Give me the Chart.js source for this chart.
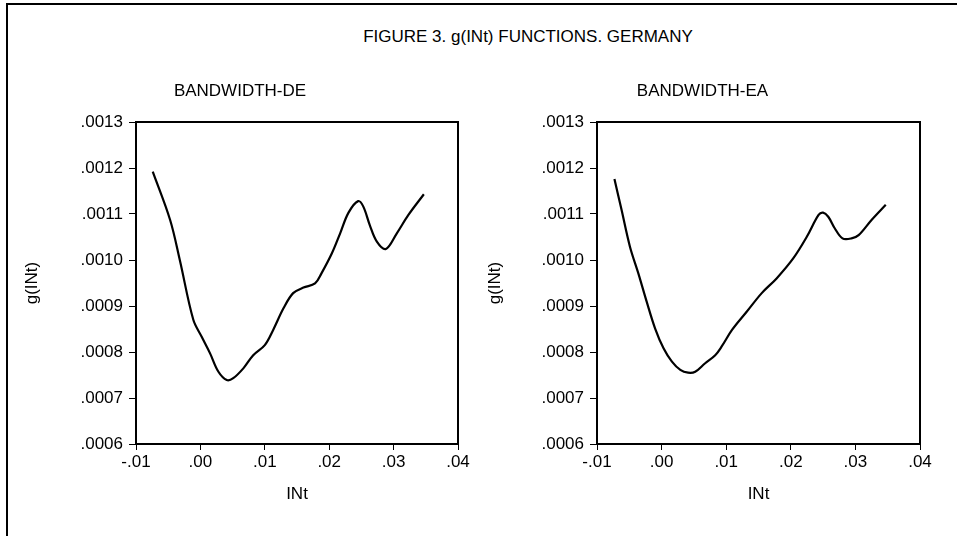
<!DOCTYPE html>
<html lang="en">
<head>
   <meta charset="UTF-8">
   <title>Figure 3</title>
   <style>
      body { margin: 0; background: #fff; overflow: hidden; }
      .page { position: relative; width: 957px; height: 536px; overflow: hidden; }
      .frame { position: absolute; left: 6px; top: 3px; width: 1000px; height: 600px; border: 2px solid #000; }
      .main-title {
         position: absolute; left: 0; top: 27px; width: 1056px;
         text-align: center; font: 17px "Liberation Sans", Arial, sans-serif; line-height: 20px; color: #000;
      }
      canvas { position: absolute; left: 0; top: 0; }
   </style>
   <script src="https://cdn.jsdelivr.net/npm/chart.js@4.4.0/dist/chart.umd.min.js"></script>
</head>
<body>
   <div class="page">
      <div class="frame"></div>
      <div class="main-title">FIGURE 3. g(INt) FUNCTIONS. GERMANY</div>
      <canvas id="chart-de" width="957" height="536"></canvas>
      <canvas id="chart-ea" width="957" height="536"></canvas>
   </div>

   <script>
      // tick values
      let xTicks = [-0.01, 0.00, 0.01, 0.02, 0.03, 0.04];
      let yTicks = [0.0006, 0.0007, 0.0008, 0.0009, 0.0010, 0.0011, 0.0012, 0.0013];

      // BANDWIDTH-DE
      let deX = [-0.0074, -0.0047, -0.0032, -0.0011, 0.0002, 0.0015, 0.0028, 0.0041, 0.0051, 0.0067,
                 0.0082, 0.0100, 0.0113, 0.0129, 0.0144, 0.0160, 0.0178, 0.0188, 0.0204, 0.0217,
                 0.0230, 0.0245, 0.0253, 0.0263, 0.0274, 0.0288, 0.0305, 0.0323, 0.0347];
      let deY = [0.001192, 0.001087, 0.001000, 0.000870, 0.000833, 0.000797, 0.000757, 0.000739, 0.000743, 0.000765,
                 0.000793, 0.000815, 0.000848, 0.000895, 0.000928, 0.000940, 0.000949, 0.000971, 0.001014, 0.001058,
                 0.001103, 0.001128, 0.001116, 0.001076, 0.001040, 0.001024, 0.001058, 0.001098, 0.001143];

      // BANDWIDTH-EA
      let eaX = [-0.0073, -0.0062, -0.0049, -0.0036, -0.0023, -0.0010, 0.0003, 0.0016, 0.0029, 0.0041,
                 0.0052, 0.0067, 0.0083, 0.0093, 0.0109, 0.0132, 0.0155, 0.0178, 0.0204, 0.0225,
                 0.0243, 0.0250, 0.0258, 0.0268, 0.0280, 0.0294, 0.0305, 0.0325, 0.0347];
      let eaY = [0.001176, 0.001109, 0.001029, 0.000971, 0.000909, 0.000851, 0.000808, 0.000779, 0.000761, 0.000755,
                 0.000757, 0.000775, 0.000793, 0.000812, 0.000848, 0.000888, 0.000928, 0.000960, 0.001004, 0.001051,
                 0.001098, 0.001103, 0.001094, 0.001069, 0.001047, 0.001047, 0.001054, 0.001087, 0.001120];

      const FONT = { family: '"Liberation Sans", Arial, sans-serif', size: 17 };

      // box round the plot area
      const boxPlugin = {
         id: 'plotBox',
         afterDraw(chart) {
            const a = chart.chartArea;
            const ctx = chart.ctx;
            ctx.save();
            ctx.strokeStyle = '#000';
            ctx.lineWidth = 2;
            ctx.strokeRect(a.left, a.top, a.right - a.left, a.bottom - a.top);
            ctx.restore();
         }
      };

      let fmt = (v, d) => v.toFixed(d).replace('0.', '.');

      let makeChart = (id, title, xs, ys, pad, yWidth) => {
         let points = xs.map((x, i) => ({ x: x, y: ys[i] }));
         return new Chart(document.getElementById(id), {
            type: 'line',
            data: {
               datasets: [{
                  data: points,
                  borderColor: '#000',
                  borderWidth: 2.2,
                  pointRadius: 0,
                  tension: 0.35,
                  fill: false
               }]
            },
            plugins: [boxPlugin],
            options: {
               responsive: false,
               animation: false,
               layout: { padding: pad },
               plugins: {
                  legend: { display: false },
                  tooltip: { enabled: false },
                  title: {
                     display: true,
                     text: title,
                     color: '#000',
                     font: { family: FONT.family, size: 17, weight: 'normal' },
                     padding: { top: 0, bottom: 20.6 }
                  }
               },
               scales: {
                  x: {
                     type: 'linear',
                     min: xTicks[0],
                     max: xTicks[xTicks.length - 1],
                     afterBuildTicks: (s) => { s.ticks = xTicks.map(v => ({ value: v })); },
                     afterFit: (s) => { s.height = 61; },
                     ticks: {
                        color: '#000', font: FONT, padding: 2, maxRotation: 0,
                        callback: (v) => fmt(v, 2)
                     },
                     grid: { drawOnChartArea: false, drawTicks: true, tickLength: 6, color: '#000' },
                     border: { display: false },
                     title: { display: true, text: 'INt', color: '#000', font: FONT, padding: 0 }
                  },
                  y: {
                     min: yTicks[0],
                     max: yTicks[yTicks.length - 1],
                     afterBuildTicks: (s) => { s.ticks = yTicks.map(v => ({ value: v })); },
                     afterFit: (s) => { s.width = yWidth; },
                     ticks: {
                        color: '#000', font: FONT, padding: 6,
                        callback: (v) => fmt(v, 4)
                     },
                     grid: { drawOnChartArea: false, drawTicks: true, tickLength: 7, color: '#000' },
                     border: { display: false },
                     title: { display: true, text: 'g(INt)', color: '#000', font: FONT, padding: 0 }
                  }
               }
            }
         });
      };

      makeChart('chart-de', 'BANDWIDTH-DE', deX, deY, { left: 22, right: 499, top: 81, bottom: 31 }, 114);
      makeChart('chart-ea', 'BANDWIDTH-EA', eaX, eaY, { left: 485, right: 37, top: 81, bottom: 31 }, 112);
   </script>
</body>
</html>
